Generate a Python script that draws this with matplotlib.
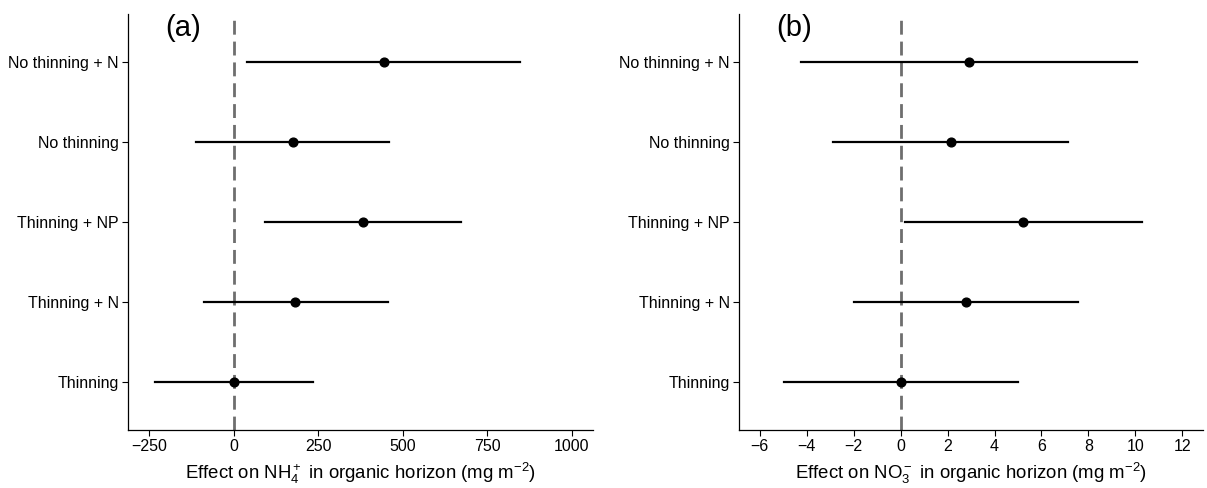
import matplotlib
matplotlib.use('Agg')
import matplotlib.pyplot as plt

plt.rcParams['font.family'] = ['Liberation Sans', 'DejaVu Sans']
plt.rcParams['mathtext.fontset'] = 'custom'
plt.rcParams['mathtext.rm'] = 'Liberation Sans'
plt.rcParams['mathtext.it'] = 'Liberation Sans:italic'
plt.rcParams['mathtext.bf'] = 'Liberation Sans:bold'

treatments = ['Thinning', 'Thinning + N', 'Thinning + NP', 'No thinning', 'No thinning + N']

# panel (a): NH4+
nh4_est = [0, 183, 382, 175, 445]
nh4_lo = [-233, -87, 93, -111, 40]
nh4_hi = [234, 456, 673, 460, 848]

# panel (b): NO3-
no3_est = [0, 2.77, 5.21, 2.13, 2.92]
no3_lo = [-4.98, -2.0, 0.18, -2.87, -4.26]
no3_hi = [5.0, 7.56, 10.28, 7.13, 10.07]

fig = plt.figure(figsize=(12.07, 4.88), dpi=100)
ax1 = fig.add_axes([0.106, 0.119, 0.385, 0.852])
ax2 = fig.add_axes([0.612, 0.119, 0.385, 0.852])


def panel(ax, est, lo, hi, ticks, xlim, label, tag):
    ax.axvline(0, color='#6e6e6e', lw=2, ls=(0, (5, 2.5)), zorder=1)
    for i in range(len(treatments)):
        ax.plot([lo[i], hi[i]], [i + 1, i + 1], color='black', lw=1.6, zorder=2)
        ax.plot(est[i], i + 1, 'o', color='black', ms=6.3, zorder=3)
    ax.set_yticks(range(1, len(treatments) + 1))
    ax.set_yticklabels(treatments)
    ax.set_ylim(0.4, 5.6)
    ax.set_xticks(ticks)
    ax.set_xticklabels([str(t).replace('-', '\u2212') for t in ticks])
    ax.set_xlim(*xlim)
    ax.set_xlabel(label, fontsize=13.4, labelpad=5)
    ax.tick_params(labelsize=11.5, length=4, width=0.8, colors='black', pad=2.5)
    for s in ['top', 'right']:
        ax.spines[s].set_visible(False)
    for s in ['left', 'bottom']:
        ax.spines[s].set_linewidth(0.9)
    ax.text(0.08, 1.0, tag, transform=ax.transAxes, fontsize=21, va='top', ha='left')


panel(ax1, nh4_est, nh4_lo, nh4_hi, [-250, 0, 250, 500, 750, 1000], (-312.5, 1062.5),
      r'Effect on NH$_4^+$ in organic horizon (mg m$^{-2}$)', '(a)')
panel(ax2, no3_est, no3_lo, no3_hi, [-6, -4, -2, 0, 2, 4, 6, 8, 10, 12], (-6.9, 12.9),
      r'Effect on NO$_3^-$ in organic horizon (mg m$^{-2}$)', '(b)')

fig.savefig('out.png', dpi=100)
